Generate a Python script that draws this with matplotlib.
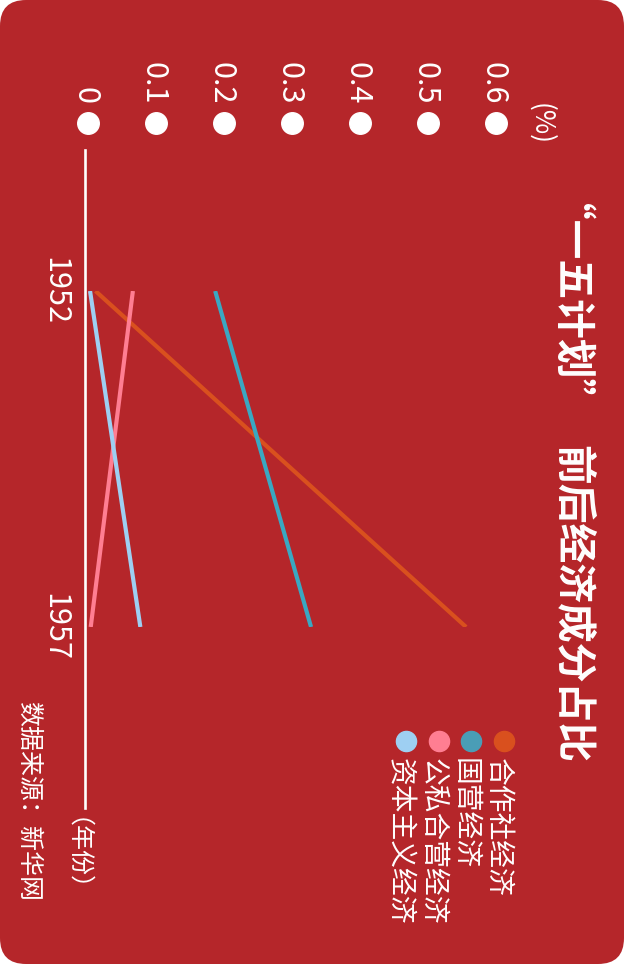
import matplotlib
matplotlib.use("Agg")
import matplotlib.pyplot as plt
from matplotlib.patches import FancyBboxPatch
from matplotlib.lines import Line2D
from matplotlib.transforms import Affine2D, blended_transform_factory

plt.rcParams['font.family'] = ['Noto Sans CJK SC', 'DejaVu Sans']

# 数据
years = [1952, 1957]
series_names = ['合作社经济', '国营经济', '公私合营经济', '资本主义经济']
coop = [0.011, 0.556]
state = [0.187, 0.328]
joint = [0.066, 0.004]
capital = [0.003, 0.077]
value_ticks = [0, 0.1, 0.2, 0.3, 0.4, 0.5, 0.6]
tick_labels = ['0', '0.1', '0.2', '0.3', '0.4', '0.5', '0.6']

line_colors = ['#D9501E', '#3AA8C2', '#FF7E92', '#9ECFF2']
dot_colors = ['#D9501E', '#4A9DB6', '#FF7E92', '#9ECFF2']
bg_red = '#B5262A'

W, H = 624, 964
fig = plt.figure(figsize=(W / 100, H / 100), dpi=100)
fig.patch.set_facecolor('white')

# 像素坐标 (从左上角)
px = Affine2D().scale(1 / W, -1 / H).translate(0, 1) + fig.transFigure


def vtext(x, y, s, size, ha='left', transform=px, **kw):
    # 竖排文字: x 为字形中心, y 为起点; 基线在中心左侧约 0.38em
    base = x - 0.38 * size * 100 / 72
    return fig.text(base, y, s, transform=transform, rotation=-90, rotation_mode='anchor',
                    ha=ha, va='baseline', fontsize=size, color='white', **kw)


bg = FancyBboxPatch((0, 0), W, H, boxstyle="round,pad=0,rounding_size=26",
                    transform=px, facecolor=bg_red, edgecolor='none', zorder=-10)
fig.patches.append(bg)

ax = fig.add_axes([88 / W, 1 - 627 / H, (496 - 88) / W, (627 - 291) / H])
ax.set_xlim(0, 0.6)
ax.set_ylim(1957, 1952)
ax.axis('off')

# 折线 (数值横向, 年份纵向)
series = [coop, state, joint, capital]
for vals, c, z in zip(series, line_colors, [2, 3, 4, 5]):
    ax.plot(vals, years, color=c, lw=3, solid_capstyle='butt', zorder=z)

# 数值刻度: 圆点 + 旋转标签
bx = blended_transform_factory(ax.transData, px)
ax.plot(value_ticks, [123] * len(value_ticks), 'o', color='white', ms=15.5,
        transform=bx, clip_on=False)
for v, lab in zip(value_ticks, tick_labels):
    ax.text(v, 104, lab, transform=bx + Affine2D().translate(-12, 0), rotation=-90,
            rotation_mode='anchor', ha='right', va='baseline',
            fontsize=22, color='white', clip_on=False)
vtext(543, 103, '(%)', 19)

# 年份轴
fig.lines.append(Line2D([84.5, 84.5], [150, 808], transform=px, color='white', lw=1.9))
by = blended_transform_factory(px, ax.transData)
for yr in years:
    ax.text(46, yr, str(yr), transform=by, rotation=-90, rotation_mode='anchor',
            ha='center', va='baseline', fontsize=22, color='white', clip_on=False)
vtext(66, 817, '（年份）', 18)

# 标题
vtext(552, 203, '“一五计划”', 28.6, fontweight='bold')
vtext(576, 445, '前后经济成分占比', 28.6, fontweight='bold')

# 图例
leg_x = [504, 471, 439, 406]
for name, c, lx in zip(series_names, dot_colors, leg_x):
    fig.lines.append(Line2D([lx], [740.5], transform=px, marker='o', ms=14.5,
                            color=c, linestyle='none'))
    vtext(lx - 4, 758, name, 20)

# 数据来源
vtext(31, 701, '数据来源：新华网', 18)

fig.savefig('out.png', dpi=100, facecolor=fig.get_facecolor())
